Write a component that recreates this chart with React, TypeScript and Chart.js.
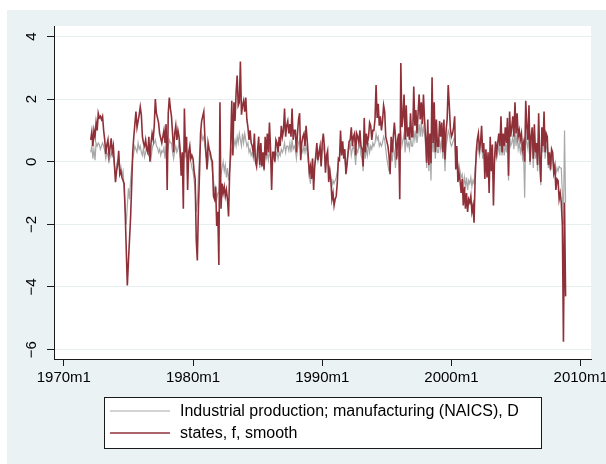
import React, { useEffect, useRef } from 'react';
import { Chart, registerables } from 'chart.js';

Chart.register(...registerables);

// Stata %tm month numbers (months since 1960m1); first observation = 1972m2
const START_MONTH = 145;

// Industrial production; manufacturing (NAICS), D  (grey)
const manuf1970s = [
  0.3, 0.5, 0.1, 0.4, 0.05, 0.6, 0.5, 0.6, 0.55, 0.4, 0.5,
  0.6, 0.5, 0.35, 0.1, 0.3, 0.2, 0.0, 0.15, 0.3, 0.2, 0.15, -0.1,
  -0.4, -0.1, 0.05, 0.1, -0.3, -0.15, -0.45, -0.3, -0.8, -1.5, -2.0, -1.4,
  -0.85, -1.2, -0.6, -0.2, 0.1, 0.3, 0.5, 0.4, 0.3, 0.6, 0.4, 0.5,
  0.3, 0.2, 0.45, 0.15, 0.3, 0.5, 0.25, 0.2, 0.35, 0.1, 0.4, 0.55,
  0.6, 0.7, 0.5, 0.45, 0.3, 0.4, 0.2, 0.35, 0.3, 0.45, 0.1, 0.5,
  0.15, 0.5, 0.7, 0.6, 0.6, 0.3, 0.1, 0.35, 0.5, 0.3, 0.4, 0.6,
  0.2, 0.0, 0.25, -0.3, 0.5, 0.2, 0.4, 0.1, 0.3, 0.1, 0.0, -0.2,
];
const manuf1980s = [
  -0.3, -0.6, -0.9, -1.6, -1.3, -0.5, 0.2, 0.6, 0.9, 0.7, 0.8, 0.5,
  0.2, 0.3, 0.0, 0.3, 0.2, 0.0, -0.3, -0.6, -0.9, -0.8, -1.2, -1.0,
  -1.0, -0.6, -0.4, -0.2, 0.0, -0.3, -0.1, -0.5, -0.2, -0.6, -0.3, 0.1,
  0.4, 0.3, 0.5, 0.7, 0.5, 0.8, 0.6, 0.9, 0.7, 0.5, 0.9, 0.6,
  0.9, 0.7, 0.5, 0.6, 0.3, 0.4, 0.2, 0.3, 0.1, 0.35, 0.0, -0.1,
  0.1, 0.3, -0.2, 0.2, -0.1, 0.1, -0.3, 0.3, 0.1, 0.25, 0.05, 0.4,
  0.1, -0.2, 0.2, 0.1, 0.0, 0.2, 0.3, 0.1, 0.3, 0.2, 0.4, 0.3,
  0.4, 0.6, 0.3, 0.5, 0.5, 0.35, 0.6, 0.3, 0.7, 0.4, 0.5, 0.4,
  0.1, 0.4, 0.6, 0.7, 0.1, 0.4, 0.3, 0.5, 0.3, 0.5, 0.3, 0.0,
  -0.4, -0.7, -0.3, 0.1, -0.6, -0.1, 0.1, 0.2, 0.0, 0.2, 0.3, -0.1,
];
const manuf1990s = [
  0.3, 0.5, 0.3, -0.2, 0.1, 0.2, -0.3, -0.2, -0.5, -0.8, -0.6, -0.7,
  -0.6, -0.5, -0.3, 0.0, 0.1, 0.5, 0.3, 0.4, 0.2, 0.0, -0.2, 0.0,
  0.3, 0.4, 0.6, 0.2, 0.4, 0.5, 0.3, -0.1, 0.4, 0.3, 0.5, 0.6,
  0.2, 0.1, -0.3, 0.6, 0.1, 0.4, 0.2, 0.6, 0.3, 0.5, 0.4, 0.6,
  0.5, 0.6, 0.9, 0.7, 0.8, 0.5, 0.6, 0.5, 0.6, 0.8, 0.7, 0.4,
  0.1, -0.1, -0.3, -0.3, 0.3, 0.0, 0.5, 0.3, -0.2, 0.3, 0.2, 0.4,
  -0.4, 1.0, 0.5, 0.7, 0.9, 0.3, 0.8, 0.5, 0.6, 0.4, 0.8, 0.5,
  0.5, 1.0, 0.7, 1.0, 0.6, 0.9, 1.2, 0.8, 1.3, 0.8, 1.1, 0.9,
  0.5, -0.2, 0.7, -0.3, 0.5, -0.6, 1.0, 0.3, 0.9, 0.1, 0.7, 0.3,
  0.3, 0.7, 0.4, 0.7, 0.1, 0.7, -0.3, 0.5, 0.7, 1.0, 0.9, 0.6,
];
const manuf2000s = [
  0.5, 0.6, 0.7, 0.8, 0.0, 0.4, -0.3, -0.1, -0.3, -0.5, -0.4, -0.8,
  -0.5, -0.8, -0.5, -0.9, -0.6, -0.7, -0.5, -0.8, -0.6, -0.7, -0.2, 0.1,
  0.4, 0.5, 0.2, 0.4, 0.7, 0.1, 0.4, -0.2, 0.2, -0.3, 0.1, -0.4,
  0.3, -0.2, 0.2, -0.6, 0.0, 0.3, 0.1, 0.3, 0.5, 0.2, 0.8, 0.2,
  0.5, 0.2, 0.6, 0.3, 0.8, -0.6, 0.9, 0.5, 0.6, 0.8, 0.4, 1.0,
  0.5, 0.9, 0.4, 0.6, 0.3, 0.5, 0.1, 0.3, -1.15, 1.0, 0.6, 0.4,
  1.0, -0.1, 0.5, 0.7, -0.2, 0.7, 0.1, 0.4, -0.3, 0.9, 0.0, -0.75,
  0.6, 0.3, 0.9, 0.1, 0.5, 0.4, -0.2, 0.2, -0.3, 0.2, 0.1, -0.2,
  -0.1, -0.4, -0.2, -0.3, -0.15, -0.2, -0.2, -1.0, -2.0, 1.0, -1.3,
];

// states, f, smooth  (maroon)
const states1970s = [
  0.7, 0.95, 0.5, 1.0, 0.8, 1.25, 1.0, 1.55, 1.4, 1.45, 1.35,
  1.45, 1.0, 0.7, 0.25, 0.55, 0.7, 0.2, 0.45, 0.75, 0.3, 0.5, -0.1,
  -0.65, -0.3, -0.1, 0.35, -0.4, -0.3, -0.5, -0.6, -0.7, -1.6, -2.8, -3.95,
  -3.2, -2.5, -1.8, -0.8, 0.3, 0.8, 1.2, 1.6, 1.1, 1.3, 1.5, 1.75,
  1.5, 0.8, 0.6, 0.5, 0.7, 0.4, 0.3, 0.8, 0.0, 0.6, 0.9, 0.7,
  1.15, 2.0, 1.55, 1.4, 1.25, 0.9, 0.75, 0.6, 0.8, 1.0, 0.6, 1.2,
  -0.9, 1.55, 2.05, 1.7, 1.45, 0.9, 0.3, 0.9, 1.15, 0.7, 1.0, 0.8,
  0.4, -0.45, 0.3, -1.5, 1.7, 0.3, 0.8, -0.9, 0.3, 0.5, 0.1, 0.2,
];
const states1980s = [
  0.1, -0.3, -0.55, -2.5, -3.15, -1.5, -0.4, 0.9, 1.3, 1.45, 1.6, 0.8,
  0.3, -0.25, 0.6, 0.4, 0.3, 0.1, 0.0, -1.1, -1.2, -0.8, -2.05, -1.6,
  -3.3, 1.9, -1.5, -0.7, -1.0, -0.8, -1.1, -0.9, -1.2, -1.75, -0.35, 0.5,
  1.95, 0.2, 1.9, 1.3, 2.2, 2.75, 1.8, 1.9, 3.2, 1.5, 1.8, 1.95,
  1.6, 2.05, 1.35, 1.1, 0.7, 1.0, 0.6, 0.5, 0.3, 0.9, 0.0, -0.15,
  0.4, 0.8, -0.1, 0.6, -0.15, 0.3, -0.25, 0.8, 0.2, 0.9, 0.3, 1.25,
  0.4, -0.9, 0.3, 0.3, 0.0, 0.7, 0.6, 0.3, 0.8, 0.5, 1.15, 0.8,
  1.0, 1.7, 0.8, 1.15, 1.3, 0.9, 1.2, 0.8, 1.7, 0.7, 1.0, 1.0,
  0.3, 0.9, 1.35, 1.55, 0.05, 0.6, 0.8, 0.9, 0.5, 1.15, 0.7, 0.2,
  -0.35, -0.15, -0.55, 0.1, -0.9, -0.15, 0.2, 0.6, 0.05, 0.3, 0.5, -0.15,
];
const states1990s = [
  0.6, 0.9, 0.5, -0.35, 0.2, 0.35, -0.65, -0.3, -0.6, -1.2, -1.0, -1.4,
  -1.2, -1.1, -0.65, 0.1, 0.05, 1.0, 0.2, 0.65, 0.1, 0.4, -0.4, -0.1,
  0.3, 0.65, 0.7, 1.1, 0.5, 0.8, 0.9, 0.2, 0.9, 0.8, 0.6, 1.0,
  0.5, 0.4, -0.15, 1.4, 0.3, 0.9, 0.6, 0.8, 1.25, 1.15, 0.7, 1.0,
  1.0, 1.35, 2.45, 1.4, 1.85, 1.15, 1.45, 1.0, 1.3, 1.8, 1.6, 0.8,
  0.65, 0.5, 0.2, -0.4, 0.8, 0.3, 0.8, 1.25, 0.8, 0.07, 0.7, 0.9,
  -1.2, 3.15, 1.1, 1.45, 2.15, 0.7, 1.8, 0.8, 1.1, 0.7, 1.55, 0.8,
  0.8, 2.4, 1.15, 1.65, 0.9, 1.55, 2.15, 1.35, 1.9, 1.2, 2.15, 1.35,
  0.8, -0.03, 1.35, -0.1, 0.9, -0.05, 2.7, 0.6, 1.9, 0.3, 1.35, 0.5,
  0.5, 1.3, 0.8, 1.25, 0.3, 1.35, 0.07, 1.0, 1.35, 2.45, 1.8, 1.05,
];
const states2000s = [
  0.8, 0.9, 1.1, 1.45, -0.25, 0.5, -0.65, -0.35, -0.6, -1.0, -0.55, -1.4,
  -0.8, -1.5, -1.0, -1.6, -1.2, -1.3, -1.1, -1.6, -1.4, -1.95, -0.55, 0.3,
  0.7, 0.9, 0.4, 0.6, 1.15, 0.3, 0.6, -0.55, 0.4, -0.5, 0.3, -1.0,
  0.8, -0.3, 0.55, -1.4, 0.1, 0.65, 0.3, 0.6, 0.9, 0.5, 1.45, 0.3,
  0.9, 0.5, 1.1, 0.6, 1.4, -0.45, 1.6, 0.8, 1.1, 1.45, 0.8, 1.9,
  0.9, 1.55, 0.8, 1.0, 0.7, 0.9, 0.4, 0.6, 0.0, 1.95, 1.1, 0.7,
  1.8, 0.0, 0.8, 1.1, 0.1, 1.2, 0.3, 0.6, -0.1, 1.55, 0.1, -0.65,
  1.1, 0.5, 1.6, 0.3, 0.9, 0.8, -0.1, 0.3, -0.25, 0.4, 0.3, -0.35,
  -0.15, -0.9, -0.55, -0.6, -1.2, -1.0, -1.3, -2.0, -5.75, -1.3, -4.3,
];

const seriesLabels = ['Industrial production; manufacturing (NAICS), D', 'states, f, smooth'];
const xTickValues = [120, 240, 360, 480, 600];
const xTickLabels = ['1970m1', '1980m1', '1990m1', '2000m1', '2010m1'];
const yTickValues = [-6, -4, -2, 0, 2, 4];
const yTickLabels = ['\u22126', '\u22124', '\u22122', '0', '2', '4'];

const W = 606;
const H = 464;
const OUTER_BG = '#eaf2f3';
const GRID = '#e6eef0';
const AXIS = '#1a1a1a';
const GREY = '#a8a8a8';
const MAROON = '#8f3039';
const FONT = '"Liberation Sans", Arial, Helvetica, sans-serif';

function toPoints(values: number[]) {
  return values.map((y, i) => ({ x: START_MONTH + i, y }));
}

const stataPlugin = {
  id: 'stataLook',
  beforeDraw(chart: any) {
    const { ctx, chartArea } = chart;
    ctx.save();
    ctx.fillStyle = '#ffffff';
    ctx.fillRect(0, 0, W, H);
    ctx.fillStyle = OUTER_BG;
    ctx.fillRect(7, 10, W - 7, H - 10);
    ctx.fillStyle = '#ffffff';
    ctx.fillRect(chartArea.left, chartArea.top, chartArea.right - chartArea.left, chartArea.bottom - chartArea.top);
    ctx.restore();
  },
  afterDraw(chart: any) {
    const { ctx } = chart;
    const yScale = chart.scales.y;
    ctx.save();
    // rotated y tick labels
    ctx.fillStyle = '#000';
    ctx.font = `15px ${FONT}`;
    ctx.textAlign = 'center';
    ctx.textBaseline = 'middle';
    yTickValues.forEach((v, i) => {
      const py = yScale.getPixelForValue(v);
      ctx.save();
      ctx.translate(31.5, py);
      ctx.rotate(-Math.PI / 2);
      ctx.fillText(yTickLabels[i], 0, 0);
      ctx.restore();
    });
    // legend
    const bx = 104, by = 397, bw = 437, bh = 51;
    ctx.fillStyle = '#ffffff';
    ctx.fillRect(bx, by, bw, bh);
    ctx.strokeStyle = AXIS;
    ctx.lineWidth = 1;
    ctx.strokeRect(bx + 0.5, by + 0.5, bw, bh);
    const rows = [411, 433];
    chart.data.datasets.forEach((ds: any) => {
      const y = rows[ds.legendRow];
      ctx.strokeStyle = ds.borderColor;
      ctx.lineWidth = ds.borderWidth;
      ctx.beginPath();
      ctx.moveTo(110, y);
      ctx.lineTo(170, y);
      ctx.stroke();
      ctx.fillStyle = '#000';
      ctx.font = `16px ${FONT}`;
      ctx.textAlign = 'left';
      ctx.textBaseline = 'middle';
      ctx.fillText(ds.label, 180, y + 1);
    });
    ctx.restore();
  },
};

export default function App() {
  const canvasRef = useRef<HTMLCanvasElement | null>(null);

  useEffect(() => {
    const canvas = canvasRef.current;
    if (!canvas) return;
    const manuf = [...manuf1970s, ...manuf1980s, ...manuf1990s, ...manuf2000s];
    const states = [...states1970s, ...states1980s, ...states1990s, ...states2000s];

    const chart = new Chart(canvas, {
      type: 'line',
      data: {
        datasets: [
          {
            label: seriesLabels[1],
            data: toPoints(states),
            borderColor: MAROON,
            borderWidth: 1.6,
            pointRadius: 0,
            tension: 0,
            order: 0,
            legendRow: 1,
          } as any,
          {
            label: seriesLabels[0],
            data: toPoints(manuf),
            borderColor: GREY,
            borderWidth: 1.2,
            pointRadius: 0,
            tension: 0,
            order: 1,
            legendRow: 0,
          } as any,
        ],
      },
      options: {
        animation: false,
        responsive: false,
        maintainAspectRatio: false,
        parsing: false as any,
        normalized: true,
        layout: { padding: { top: 26, right: 15, left: 0, bottom: 0 } },
        plugins: {
          legend: { display: false },
          tooltip: { enabled: false },
        },
        scales: {
          x: {
            type: 'linear',
            min: 110.9,
            max: 609.6,
            afterBuildTicks: (scale: any) => {
              scale.ticks = xTickValues.map((v) => ({ value: v }));
            },
            afterFit: (scale: any) => {
              scale.height = H - 359;
              scale.paddingLeft = 0;
              scale.paddingRight = 0;
            },
            grid: {
              display: true,
              drawOnChartArea: false,
              drawTicks: true,
              tickLength: 7,
              tickColor: AXIS,
              tickWidth: 1,
            },
            border: { display: true, color: AXIS, width: 1 },
            ticks: {
              autoSkip: false,
              maxRotation: 0,
              minRotation: 0,
              padding: 3,
              color: '#000',
              font: { family: FONT, size: 15 },
              callback: (v: any) => {
                const i = xTickValues.indexOf(Number(v));
                return i >= 0 ? xTickLabels[i] : '';
              },
            },
          },
          y: {
            type: 'linear',
            min: -6.3,
            max: 4.335,
            afterBuildTicks: (scale: any) => {
              scale.ticks = yTickValues.map((v) => ({ value: v }));
            },
            afterFit: (scale: any) => {
              scale.width = 54;
              scale.paddingTop = 0;
              scale.paddingBottom = 0;
            },
            grid: {
              display: true,
              drawOnChartArea: true,
              color: GRID,
              lineWidth: 1,
              drawTicks: true,
              tickLength: 7,
              tickColor: AXIS,
              tickWidth: 1,
            },
            border: { display: true, color: AXIS, width: 1 },
            ticks: { display: false },
          },
        },
      },
      plugins: [stataPlugin],
    });

    return () => {
      chart.destroy();
    };
  }, []);

  return (
    <div style={{ position: 'fixed', left: 0, top: 0, width: W, height: H }}>
      <canvas ref={canvasRef} width={W} height={H} style={{ display: 'block', width: W, height: H }} />
    </div>
  );
}
